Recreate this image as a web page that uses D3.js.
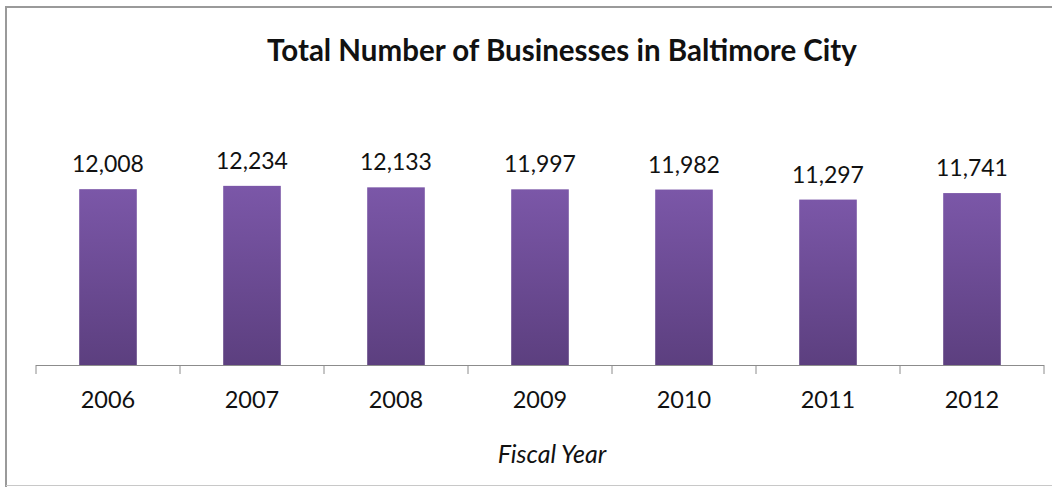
<!DOCTYPE html>
<html>
<head>
<meta charset="utf-8">
<script src="https://cdn.jsdelivr.net/npm/d3@7"></script>
<style>
  body { margin: 0; background: #fff; }
  text { font-family: Lato, "Open Sans", sans-serif; fill: #111; }
</style>
</head>
<body>
<div id="chart"></div>
<script>
// Chart data
var years = ["2006", "2007", "2008", "2009", "2010", "2011", "2012"];
var businesses = [12008, 12234, 12133, 11997, 11982, 11297, 11741];
var chartTitle = "Total Number of Businesses in Baltimore City";
var xTitle = "Fiscal Year";

var width = 1052;
var height = 487;

var svg = d3.select("#chart")
  .append("svg")
  .attr("width", width)
  .attr("height", height);

// frame round the chart (right and bottom edges run off the picture)
svg.append("rect")
  .attr("x", 6).attr("y", 7)
  .attr("width", 1060).attr("height", 500)
  .attr("fill", "#fff")
  .attr("stroke", "#9a9a9a")
  .attr("stroke-width", 2);
svg.append("line")
  .attr("x1", 6).attr("x2", width)
  .attr("y1", 485.5).attr("y2", 485.5)
  .attr("stroke", "#c8c8c8").attr("stroke-width", 1);

// gradient on the bars
var grad = svg.append("defs").append("linearGradient")
  .attr("id", "barGrad")
  .attr("x1", 0).attr("y1", 0).attr("x2", 0).attr("y2", 1);
grad.append("stop").attr("offset", "0%").attr("stop-color", "#7b57a8");
grad.append("stop").attr("offset", "100%").attr("stop-color", "#5c3f7f");

var x = d3.scaleBand()
  .domain(years)
  .range([36, 1044])
  .paddingInner(0.6)
  .paddingOuter(0.3);

var y = d3.scaleLinear()
  .domain([0, 14000])
  .range([365, 160]);

// title
svg.append("text")
  .attr("x", 562).attr("y", 61)
  .attr("text-anchor", "middle")
  .style("font-size", "29.5px")
  .style("font-weight", "bold")
  .text(chartTitle);

// bars
svg.selectAll("rect.bar")
  .data(businesses)
  .enter()
  .append("rect")
  .attr("class", "bar")
  .attr("x", function(d, i){ return x(years[i]); })
  .attr("y", function(d){ return y(d); })
  .attr("width", x.bandwidth())
  .attr("height", function(d){ return y(0) - y(d); })
  .attr("fill", "url(#barGrad)");

// value labels
svg.selectAll("text.val")
  .data(businesses)
  .enter()
  .append("text")
  .attr("class", "val")
  .attr("x", function(d, i){ return x(years[i]) + x.bandwidth() / 2; })
  .attr("y", function(d){ return y(d) - 17; })
  .attr("text-anchor", "middle")
  .style("font-size", "23px")
  .text(function(d){ return d3.format(",")(d); });

// x axis with ticks between the categories
var axis = svg.append("g").attr("transform", "translate(0,365)");
axis.append("line")
  .attr("x1", 36).attr("x2", 1044)
  .attr("y1", 0.5).attr("y2", 0.5)
  .attr("stroke", "#8c8c8c");
var edges = d3.range(years.length + 1).map(function(i){ return 36 + i * x.step(); });
axis.selectAll("line.tick")
  .data(edges)
  .enter()
  .append("line")
  .attr("class", "tick")
  .attr("x1", function(d){ return d; }).attr("x2", function(d){ return d; })
  .attr("y1", 0).attr("y2", 9)
  .attr("stroke", "#8c8c8c");
axis.selectAll("text")
  .data(years)
  .enter()
  .append("text")
  .attr("x", function(d){ return x(d) + x.bandwidth() / 2; })
  .attr("y", 43)
  .attr("text-anchor", "middle")
  .style("font-size", "23.5px")
  .text(function(d){ return d; });

// axis title
svg.append("text")
  .attr("x", 552).attr("y", 463)
  .attr("text-anchor", "middle")
  .style("font-size", "25px")
  .style("font-style", "italic")
  .text(xTitle);
</script>
</body>
</html>
